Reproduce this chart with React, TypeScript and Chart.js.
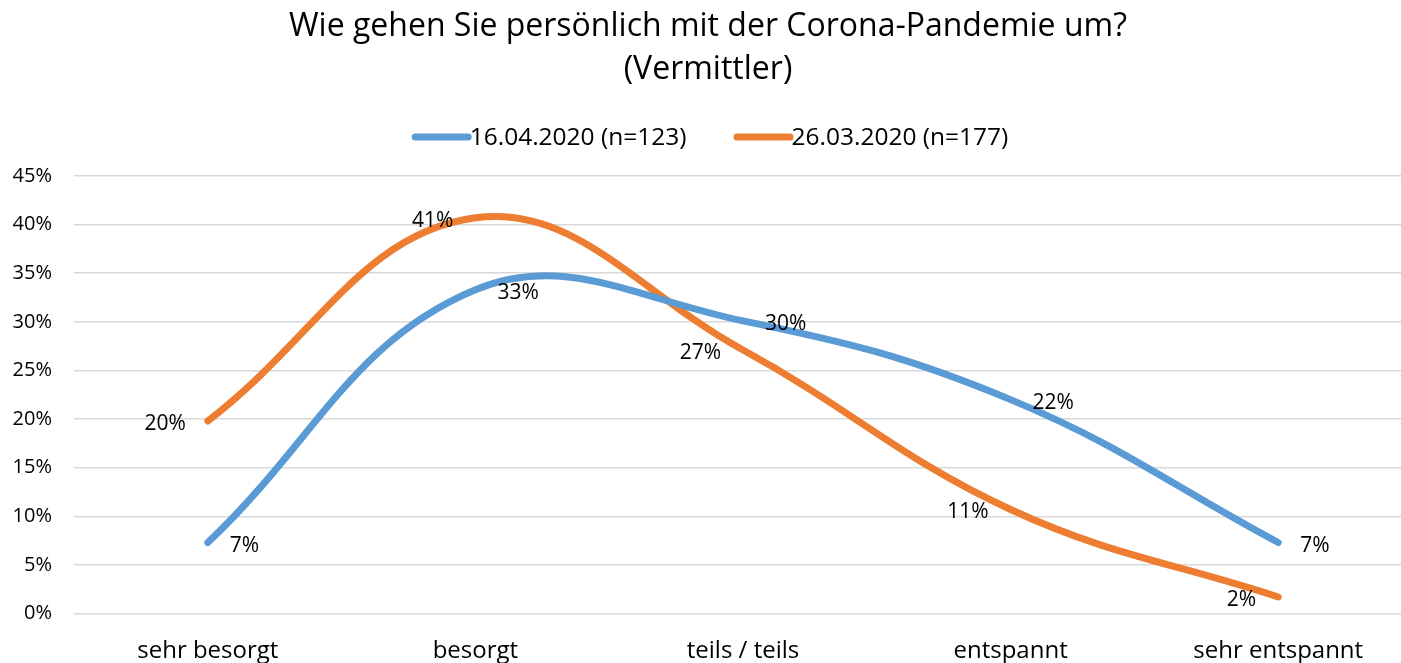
import React, { useEffect, useRef } from "react";
import { Chart, registerables } from "chart.js";

Chart.register(...registerables);

const categories = ["sehr besorgt", "besorgt", "teils / teils", "entspannt", "sehr entspannt"];
const seriesApril = [7.3, 33.3, 30.1, 22.0, 7.3];
const seriesMarch = [19.8, 40.7, 27.1, 10.7, 1.7];
const seriesLabels = ["16.04.2020 (n=123)", "26.03.2020 (n=177)"];
const titleLines = ["Wie gehen Sie persönlich mit der Corona-Pandemie um?", "(Vermittler)"];
const yTicks = [0, 5, 10, 15, 20, 25, 30, 35, 40, 45];

const FONT = "'Open Sans', Lato, sans-serif";
const BLUE = "#5B9BD5";
const ORANGE = "#ED7D31";
const CANVAS_W = 1412;
const CANVAS_H = 663;

const overlayPlugin = {
  id: "overlay",
  afterDatasetsDraw(chart: any) {
    const ctx = chart.ctx;
    ctx.save();
    // data labels
    chart.data.datasets.forEach((ds: any, di: number) => {
      const meta = chart.getDatasetMeta(di);
      const side = ds.labelSide;
      ctx.font = `21px ${FONT}`;
      ctx.fillStyle = "#000";
      ctx.textBaseline = "middle";
      ctx.textAlign = side === "right" ? "left" : "right";
      meta.data.forEach((pt: any, i: number) => {
        const v = ds.data[i];
        const txt = Math.round(v) + "%";
        const x = side === "right" ? pt.x + 22 : pt.x - 22;
        ctx.fillText(txt, x, pt.y + 3);
      });
    });
    ctx.restore();
  },
  afterDraw(chart: any) {
    const ctx = chart.ctx;
    ctx.save();
    // title
    ctx.fillStyle = "#000";
    ctx.textAlign = "center";
    ctx.textBaseline = "alphabetic";
    ctx.font = `32px ${FONT}`;
    ctx.fillText(titleLines[0], 708, 36);
    ctx.fillText(titleLines[1], 708, 79);
    // legend
    ctx.font = `24.5px ${FONT}`;
    const lineLen = 60;
    const gap = 45;
    const items = chart.data.datasets.map((ds: any) => ({
      label: ds.label,
      color: ds.borderColor,
      w: lineLen + ctx.measureText(ds.label).width,
    }));
    const total = items.reduce((a: number, it: any) => a + it.w, 0) + gap * (items.length - 1);
    let x = 711 - total / 2;
    const y = 137;
    ctx.textAlign = "left";
    ctx.textBaseline = "middle";
    items.forEach((it: any) => {
      ctx.strokeStyle = it.color;
      ctx.lineWidth = 7;
      ctx.lineCap = "round";
      ctx.beginPath();
      ctx.moveTo(x + 3.5, y);
      ctx.lineTo(x + lineLen - 3.5, y);
      ctx.stroke();
      ctx.fillStyle = "#000";
      ctx.fillText(it.label, x + lineLen - 2, y + 1);
      x += it.w + gap;
    });
    ctx.restore();
  },
};

export default function App() {
  const ref = useRef<HTMLCanvasElement | null>(null);
  useEffect(() => {
    if (!ref.current) return;
    const chart = new Chart(ref.current, {
      type: "line",
      data: {
        labels: categories,
        datasets: [
          {
            label: seriesLabels[0],
            data: seriesApril,
            borderColor: BLUE,
            backgroundColor: BLUE,
            borderWidth: 7,
            borderCapStyle: "round",
            borderJoinStyle: "round",
            pointRadius: 0,
            tension: 0.4,
            labelSide: "right",
          } as any,
          {
            label: seriesLabels[1],
            data: seriesMarch,
            borderColor: ORANGE,
            backgroundColor: ORANGE,
            borderWidth: 7,
            borderCapStyle: "round",
            borderJoinStyle: "round",
            pointRadius: 0,
            tension: 0.4,
            labelSide: "left",
          } as any,
        ],
      },
      options: {
        animation: false,
        responsive: false,
        maintainAspectRatio: false,
        layout: { padding: { top: 176, left: 0, right: 0, bottom: 0 } },
        plugins: {
          legend: { display: false },
          title: { display: false },
          tooltip: { enabled: false },
        },
        scales: {
          x: {
            offset: true,
            grid: { display: false, drawTicks: false },
            border: { display: false },
            ticks: {
              color: "#000",
              font: { family: FONT, size: 24 },
              padding: 23,
              maxRotation: 0,
              autoSkip: false,
            },
            afterFit: (s: any) => {
              s.height = 49.5;
            },
          },
          y: {
            min: 0,
            max: 45,
            afterBuildTicks: (s: any) => {
              s.ticks = yTicks.map((v) => ({ value: v }));
            },
            grid: { color: "#D9D9D9", lineWidth: 1.5, drawTicks: false },
            border: { display: false },
            ticks: {
              color: "#000",
              font: { family: FONT, size: 20 },
              padding: 22,
              callback: (v: any) => v + "%",
            },
            afterFit: (s: any) => {
              s.width = 74;
            },
          },
        },
      },
      plugins: [overlayPlugin],
    });
    return () => chart.destroy();
  }, []);
  return (
    <div style={{ position: "fixed", left: 0, top: 0, width: 1401, height: CANVAS_H, overflow: "hidden", background: "#fff" }}>
      <canvas ref={ref} width={CANVAS_W} height={CANVAS_H} style={{ width: CANVAS_W, height: CANVAS_H, display: "block" }} />
    </div>
  );
}
